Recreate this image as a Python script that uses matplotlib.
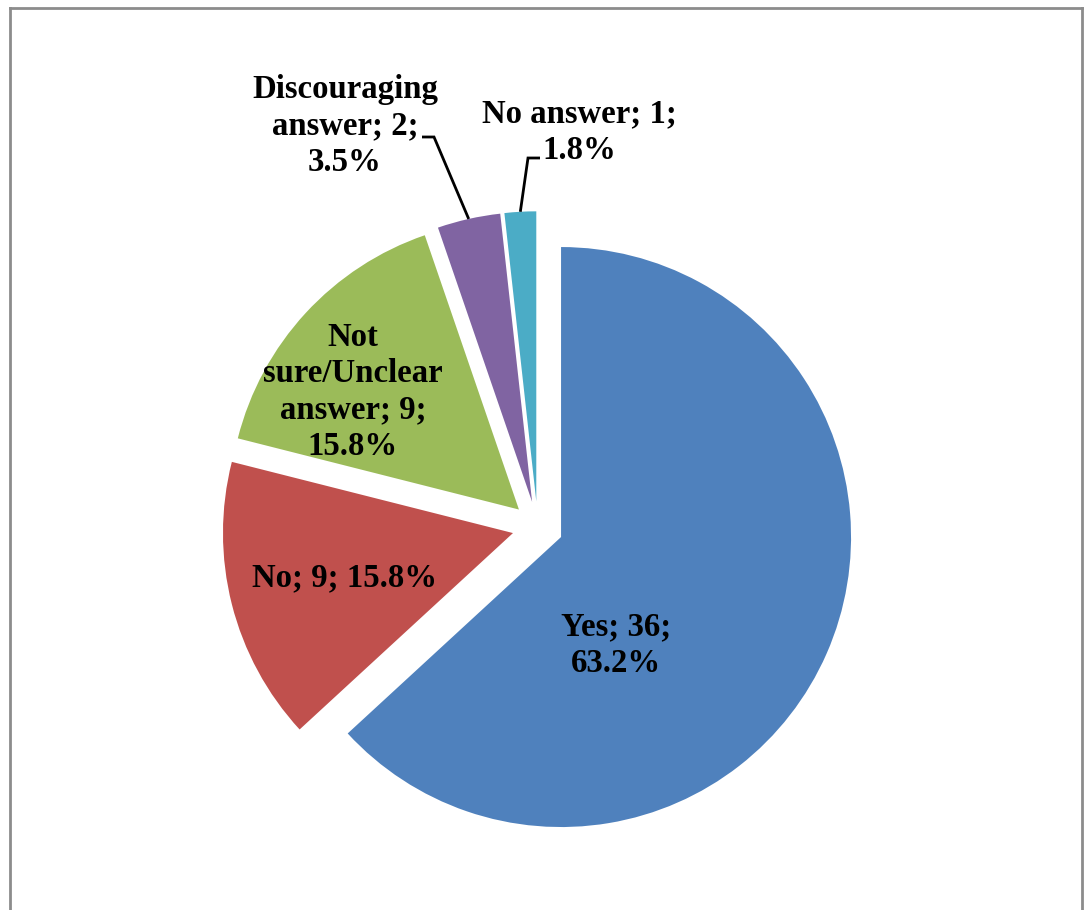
import numpy as np
import matplotlib
matplotlib.use("Agg")
import matplotlib.pyplot as plt
from matplotlib.lines import Line2D

# Survey responses
categories = ["Yes", "No", "Not\nsure/Unclear\nanswer", "Discouraging\nanswer", "No answer"]
counts = [36, 9, 9, 2, 1]
percent_labels = ["63.2%", "15.8%", "15.8%", "3.5%", "1.8%"]
colors = ["#4F81BD", "#C0504D", "#9BBB59", "#8064A2", "#4BACC6"]

label_texts = [
    "Yes; 36;\n63.2%",
    "No; 9; 15.8%",
    "Not\nsure/Unclear\nanswer; 9;\n15.8%",
    "Discouraging\nanswer; 2;\n3.5%",
    "No answer; 1;\n1.8%",
]

W, H = 1085, 910
fig = plt.figure(figsize=(W / 100, H / 100), dpi=100)
ax = fig.add_axes([0, 0, 1, 1])

center = (537.7, H - 526.8)
radius = 290
explode_px = 25.5  # pie() takes explode offsets in data units

wedges, _ = ax.pie(
    counts,
    colors=colors,
    startangle=90,
    counterclock=False,
    radius=radius,
    center=center,
    explode=[explode_px] * len(counts),
    frame=True,
    wedgeprops=dict(linewidth=0),
)
ax.set_xlim(0, W)
ax.set_ylim(0, H)
ax.set_aspect("equal")
ax.axis("off")

font = dict(family=["Liberation Serif", "DejaVu Serif"], fontweight="bold", fontsize=23.6,
            color="black", ha="center", va="center", multialignment="center",
            linespacing=1.22)

# label centres (x, y from top)
label_pos = [(616, 645), (345, 578), (353, 392), (345, 126), (579, 132)]
for txt, (x, y) in zip(label_texts, label_pos):
    ax.text(x, H - y, txt, **font)

# leader lines for the two small slices: from the arc midpoint to an elbow near the label
elbows = {3: [(434, 137), (422, 137)], 4: [(528, 158), (540, 158)]}
for i, pts in elbows.items():
    w = wedges[i]
    mid = np.deg2rad((w.theta1 + w.theta2) / 2)
    cx, cy = w.center
    ax_x = cx + w.r * np.cos(mid)
    ax_y = cy + w.r * np.sin(mid)
    xs = [ax_x] + [p[0] for p in pts]
    ys = [ax_y] + [H - p[1] for p in pts]
    ax.plot(xs, ys, color="black", lw=2.0, solid_capstyle="butt", solid_joinstyle="miter")

# outer frame
frame_kw = dict(color="#8c8c8c", lw=2.0, transform=fig.transFigure)
x0, x1 = 9.5 / W, 1082 / W
y_top = 1 - 7.5 / H
fig.add_artist(Line2D([x0, x1], [y_top, y_top], **frame_kw))
fig.add_artist(Line2D([x0, x0], [0, y_top], **frame_kw))
fig.add_artist(Line2D([x1, x1], [0, y_top], **frame_kw))

fig.savefig("out.png", dpi=100, facecolor="white")
